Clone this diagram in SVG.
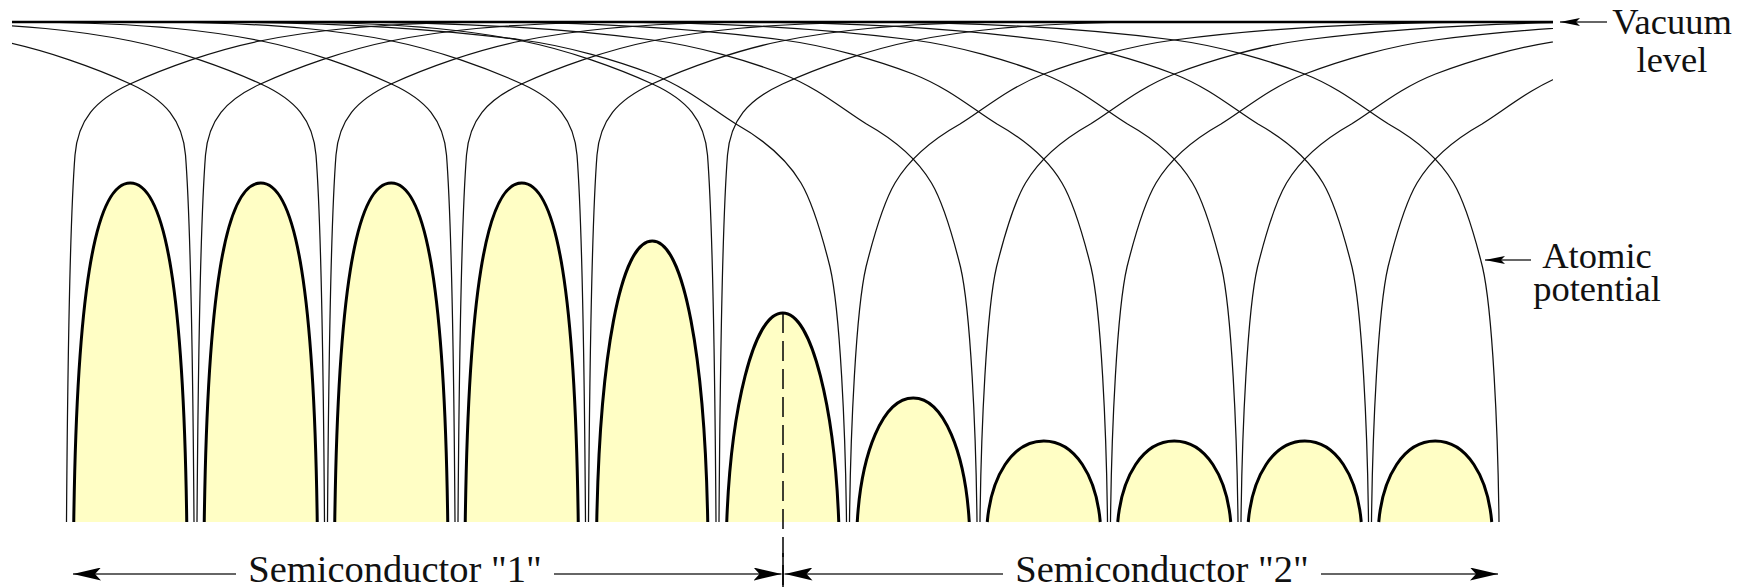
<svg xmlns="http://www.w3.org/2000/svg" width="1753" height="587" viewBox="0 0 1753 587">
<defs>
<style>
.thin{fill:none;stroke:#111;stroke-width:1.25}
.dome{fill:#FFFEC5;stroke:#000;stroke-width:3;stroke-linejoin:round}
.vac{stroke:#000;stroke-width:2.5;fill:none}
.arr{stroke:#333;stroke-width:1.7;fill:none}
.lbl{font-family:"Liberation Serif","Times New Roman",serif;font-size:36.5px;fill:#111;text-anchor:middle}
.lblb{font-size:38.5px}
.dash{stroke:#000;stroke-width:1.5;stroke-dasharray:20 8;fill:none}
.tick{stroke:#000;stroke-width:1.5;fill:none}
</style>
<path id="f1" d="M1.5,522 C2.5,380 5,220 10,155 C13,120 30,100 65,84 C100,68 150,50 195,41 C240,32 300,23 430,22"/>
<path id="f2" d="M1.5,522 C2.5,430 8,310 18,267 C24,243 34,205 47,183 C60,161 80,142 112,124 C135,110 160,88 196,74 C230,61 280,46 326,40 C380,33 480,22 640,22"/>
<clipPath id="clip"><rect x="12" y="0" width="1541" height="587"/></clipPath>
<marker id="ahBig" viewBox="0 0 28 13" refX="28" refY="6.5" markerWidth="28" markerHeight="13" markerUnits="userSpaceOnUse" orient="auto"><path d="M0,0 L28,6.5 L0,13 L6,6.5 Z" fill="#000"/></marker>
<marker id="ahSmall" viewBox="0 0 20 8" refX="20" refY="4" markerWidth="20" markerHeight="8" markerUnits="userSpaceOnUse" orient="auto"><path d="M0,0 L20,4 L0,8 L4,4 Z" fill="#000"/></marker>
</defs>
<rect width="1753" height="587" fill="#fff"/>

<g id="domes">
<path id="dome1" class="dome" d="M73.75,522 C76.75,301.65 93.53,183 130.25,183 C166.98,183 183.75,301.65 186.75,522"/>
<path id="dome2" class="dome" d="M204.25,522 C207.25,301.65 224.03,183 260.75,183 C297.48,183 314.25,301.65 317.25,522"/>
<path id="dome3" class="dome" d="M334.75,522 C337.75,301.65 354.53,183 391.25,183 C427.98,183 444.75,301.65 447.75,522"/>
<path id="dome4" class="dome" d="M465.25,522 C468.25,301.65 485.03,183 521.75,183 C558.48,183 575.25,301.65 578.25,522"/>
<path id="dome5" class="dome" d="M596.75,522 C599.75,359 620.06,241 652.25,241 C684.44,241 704.75,359 707.75,522"/>
<path id="dome6" class="dome" d="M726.75,522 C730.75,411.2 753.07,313 782.75,313 C812.43,313 834.75,411.2 838.75,522"/>
<path id="dome7" class="dome" d="M857.25,522 C861.25,453.8 882.45,398 913.25,398 C944.05,398 965.25,453.8 969.25,522"/>
<path id="dome8" class="dome" d="M987.25,522 C991.25,476.64 1012.11,441 1043.75,441 C1075.39,441 1096.25,476.64 1100.25,522"/>
<path id="dome9" class="dome" d="M1117.75,522 C1121.75,476.64 1142.61,441 1174.25,441 C1205.89,441 1226.75,476.64 1230.75,522"/>
<path id="dome10" class="dome" d="M1248.25,522 C1252.25,476.64 1273.11,441 1304.75,441 C1336.39,441 1357.25,476.64 1361.25,522"/>
<path id="dome11" class="dome" d="M1378.75,522 C1382.75,476.64 1403.61,441 1435.25,441 C1466.89,441 1487.75,476.64 1491.75,522"/>
</g>

<g id="atoms" class="thin" clip-path="url(#clip)">
<g id="atom0"><use href="#f1" transform="translate(65,0)"/></g>
<g id="atom1"><use href="#f1" transform="translate(195.5,0)"/><use href="#f1" transform="translate(195.5,0) scale(-1,1)"/></g>
<g id="atom2"><use href="#f1" transform="translate(326,0)"/><use href="#f1" transform="translate(326,0) scale(-1,1)"/></g>
<g id="atom3"><use href="#f1" transform="translate(456.5,0)"/><use href="#f1" transform="translate(456.5,0) scale(-1,1)"/></g>
<g id="atom4"><use href="#f1" transform="translate(587,0)"/><use href="#f1" transform="translate(587,0) scale(-1,1)"/></g>
<g id="atom5"><use href="#f1" transform="translate(717.5,0)"/><use href="#f1" transform="translate(717.5,0) scale(-1,1)"/></g>
<g id="atom6"><use href="#f2" transform="translate(848,0)"/><use href="#f2" transform="translate(848,0) scale(-1,1)"/></g>
<g id="atom7"><use href="#f2" transform="translate(978.5,0)"/><use href="#f2" transform="translate(978.5,0) scale(-1,1)"/></g>
<g id="atom8"><use href="#f2" transform="translate(1109,0)"/><use href="#f2" transform="translate(1109,0) scale(-1,1)"/></g>
<g id="atom9"><use href="#f2" transform="translate(1239.5,0)"/><use href="#f2" transform="translate(1239.5,0) scale(-1,1)"/></g>
<g id="atom10"><use href="#f2" transform="translate(1370,0)"/><use href="#f2" transform="translate(1370,0) scale(-1,1)"/></g>
<g id="atom11"><use href="#f2" transform="translate(1500.5,0) scale(-1,1)"/></g>
</g>

<g id="vacuum-level"><path class="vac" d="M12,22 H1553"/></g>

<g id="interface">
<path class="dash" d="M783,313 V587"/>
<path class="tick" d="M783,553 V587"/>
</g>

<g id="connectors">
<path class="arr" d="M236,574 H73" marker-end="url(#ahBig)"/>
<path class="arr" d="M554,574 H781.5" marker-end="url(#ahBig)"/>
<path class="arr" d="M1003,574 H784.5" marker-end="url(#ahBig)"/>
<path class="arr" d="M1321,574 H1498" marker-end="url(#ahBig)"/>
<path class="arr" d="M1607,22 H1560" marker-end="url(#ahSmall)"/>
<path class="arr" d="M1531,260 H1485" marker-end="url(#ahSmall)"/>
</g>

<g id="labels">
<text class="lbl" x="1672" y="33.5">Vacuum<tspan x="1672" dy="38">level</tspan></text>
<text class="lbl" x="1597" y="268">Atomic<tspan x="1597" dy="32.5">potential</tspan></text>
<text class="lbl lblb" x="395" y="582">Semiconductor "1"</text>
<text class="lbl lblb" x="1162" y="582">Semiconductor "2"</text>
</g>
</svg>
